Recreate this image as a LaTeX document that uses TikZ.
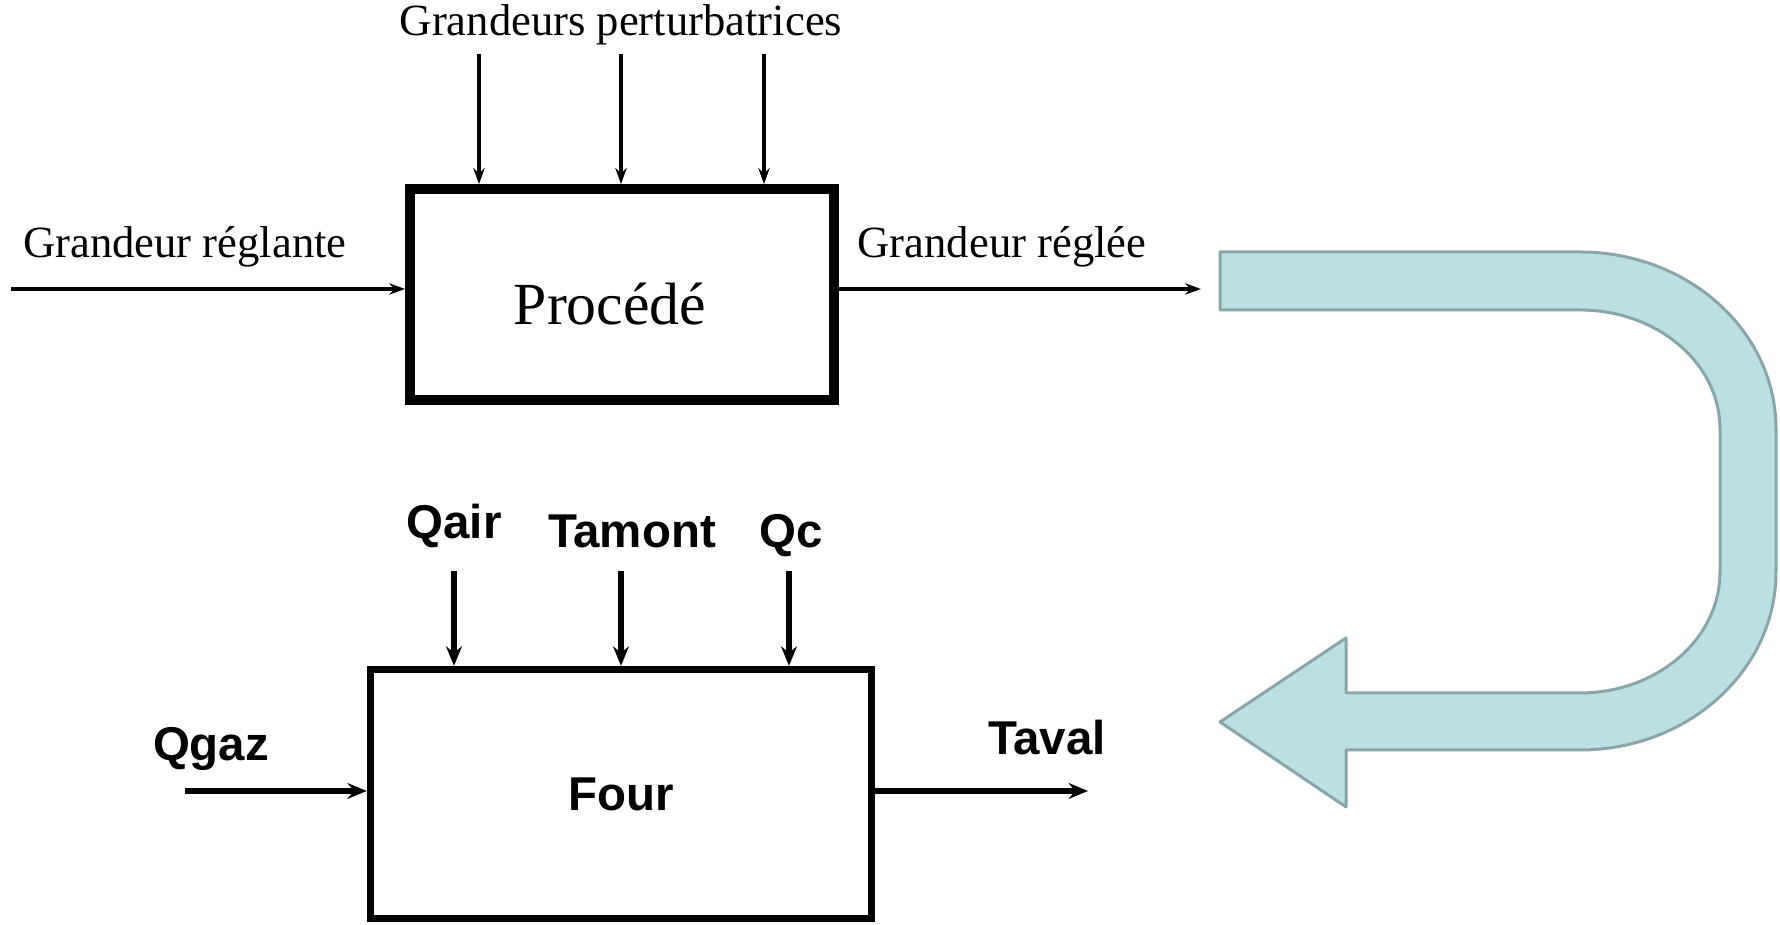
\documentclass[tikz,border=0pt]{standalone}
\usepackage{fontspec}
\setmainfont{Liberation Serif}
\newfontfamily\arialfont{Liberation Sans}
\usepackage{xcolor}
\usetikzlibrary{arrows.meta}
\definecolor{ufill}{RGB}{186,224,227}
\definecolor{uline}{RGB}{136,165,168}

\begin{document}
\begin{tikzpicture}[
  lien/.style={line width=0.9pt,-{Stealth[length=4.5pt,width=3.2pt]}},
  lienb/.style={line width=1.7pt,-{Stealth[length=5.5pt,width=4.5pt]}},
  txt/.style={font=\fontsize{12.7}{15}\selectfont},
  txtb/.style={font=\arialfont\bfseries\fontsize{13.5}{16}\selectfont},
  bloc/.style={draw,line width=2.8pt,minimum width=4.24cm,minimum height=2.11cm},
  blocb/.style={draw,line width=2.1pt,minimum width=5.01cm,minimum height=2.49cm}]
\useasboundingbox (0,0) rectangle (17.8,9.25);

%schema du haut
\node[bloc] (proc) at (6.22,6.305) {};
\node[font=\fontsize{17}{20}\selectfont] (proct) at (6.10,6.21) {Procédé};
\node[txt] (gp) at (6.21,9.0) {Grandeurs perturbatrices};
\node[txt] (gr) at (1.85,6.78) {Grandeur réglante};
\node[txt] (gs) at (10.02,6.78) {Grandeur réglée};

\coordinate (p1) at (4.79,8.71);
\coordinate (p2) at (6.21,8.71);
\coordinate (p3) at (7.64,8.71);
\coordinate (e1) at (0.11,6.36);
\coordinate (s1) at (12.01,6.36);

%entrees et sortie
\draw[lien] (p1)--(p1 |- proc.north);
\draw[lien] (p2)--(p2 |- proc.north);
\draw[lien] (p3)--(p3 |- proc.north);
\draw[lien,line width=1.4pt] (e1)--(e1 -| proc.west);
\draw[lien,line width=1.4pt] (proc.east |- s1)--(s1);

%schema du bas
\node[blocb,txtb] (four) at (6.21,1.31) {Four};
\node[txtb] (qair) at (4.54,3.99) {Qair};
\node[txtb] (tam) at (6.32,3.94) {Tamont};
\node[txtb] (qc) at (7.91,3.89) {Qc};
\node[txtb] (qgaz) at (2.11,1.76) {Qgaz};
\node[txtb] (tav) at (10.47,1.87) {Taval};

\coordinate (q1) at (4.54,3.54);
\coordinate (q2) at (6.21,3.54);
\coordinate (q3) at (7.89,3.54);
\coordinate (e2) at (1.85,1.34);
\coordinate (s2) at (10.88,1.34);

\draw[lienb] (q1)--(q1 |- four.north);
\draw[lienb] (q2)--(q2 |- four.north);
\draw[lienb] (q3)--(q3 |- four.north);
\draw[lienb] (e2)--(e2 -| four.west);
\draw[lienb] (four.east |- s2)--(s2);

%fleche en U
\draw[fill=ufill,draw=uline,line width=0.85pt,line join=round]
  (12.20,6.73) -- (15.80,6.73)
  arc[start angle=90,end angle=0,x radius=1.96,y radius=1.77]
  -- (17.76,3.53)
  arc[start angle=0,end angle=-90,x radius=1.96,y radius=1.78]
  -- (13.46,1.75) -- (13.46,1.18) -- (12.20,2.03) -- (13.46,2.87)
  -- (13.46,2.32) -- (15.80,2.32)
  arc[start angle=-90,end angle=0,x radius=1.40,y radius=1.21]
  -- (17.20,4.96)
  arc[start angle=0,end angle=90,x radius=1.40,y radius=1.19]
  -- (12.20,6.15) -- cycle;
\end{tikzpicture}
\end{document}
